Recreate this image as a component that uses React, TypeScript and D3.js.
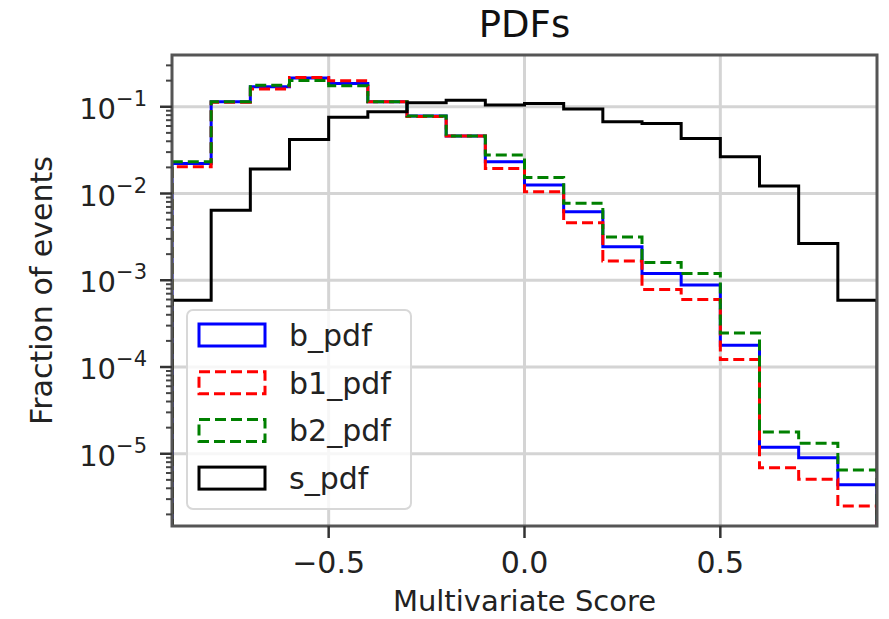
import React from 'react';
import * as d3 from 'd3';

// bin edges of the histogram (multivariate score)
const binEdges = [-0.9, -0.8, -0.7, -0.6, -0.5, -0.4, -0.3, -0.2, -0.1, 0.0, 0.1, 0.2, 0.3, 0.4, 0.5, 0.6, 0.7, 0.8, 0.9];

// fraction of events per bin
const bPdf = [0.0222, 0.114, 0.170, 0.215, 0.185, 0.114, 0.078, 0.046, 0.0232, 0.0125, 0.00615, 0.00243, 0.0012, 0.00088, 0.000178, 0.0000119, 0.000009, 0.0000044];
const b1Pdf = [0.0203, 0.113, 0.160, 0.218, 0.200, 0.114, 0.077, 0.046, 0.0194, 0.0105, 0.0046, 0.00167, 0.00078, 0.0006, 0.000122, 0.0000069, 0.0000051, 0.0000025];
const b2Pdf = [0.0232, 0.114, 0.177, 0.201, 0.175, 0.114, 0.078, 0.046, 0.0277, 0.0153, 0.0077, 0.00316, 0.0016, 0.0012, 0.000247, 0.0000178, 0.0000132, 0.0000065];
const sPdf = [0.00059, 0.0064, 0.0192, 0.042, 0.0755, 0.0876, 0.111, 0.119, 0.105, 0.109, 0.094, 0.067, 0.064, 0.043, 0.0265, 0.0122, 0.00265, 0.00059];

const seriesNames = ['b_pdf', 'b1_pdf', 'b2_pdf', 's_pdf'];
const seriesColors = ['#0000ff', '#ff0000', '#008000', '#000000'];
const seriesDash = [null, '11 5', '11 5', null];

const xTicks = [-0.5, 0.0, 0.5];
const yTickExps = [-1, -2, -3, -4, -5];

const W = 889;
const H = 619;
const margin = { left: 172, right: 12, top: 55, bottom: 93 };
const font = 'DejaVu Sans, sans-serif';

export default function App() {
  const x = d3.scaleLinear().domain([-0.9, 0.9]).range([margin.left, W - margin.right]);
  const y = d3.scaleLog().domain([1.47e-6, 0.395]).range([H - margin.bottom, margin.top]);
  const [x0, x1] = x.range();
  const [yb, yt] = y.range();

  const stepPath = (vals: number[]) => {
    const pts: [number, number][] = [[binEdges[0], 1e-8]];
    vals.forEach((v, i) => {
      pts.push([binEdges[i], v]);
      pts.push([binEdges[i + 1], v]);
    });
    pts.push([binEdges[binEdges.length - 1], 1e-8]);
    return d3.line<[number, number]>()
      .x(d => x(d[0]))
      .y(d => Math.min(y(d[1]), yb + 20))(pts);
  };

  const all = [bPdf, b1Pdf, b2Pdf, sPdf];

  // minor ticks on log axis
  const minor: number[] = [];
  for (let e = -6; e <= 0; e++) {
    for (let m = 2; m <= 9; m++) {
      const v = m * Math.pow(10, e);
      if (v >= y.domain()[0] && v <= y.domain()[1]) minor.push(v);
    }
  }

  const legendX = 187;
  const legendY = 310;
  const rowH = 47.7;

  return (
    <svg width={W} height={H} style={{ position: 'absolute', left: 0, top: 0, background: '#fff' }}>
      <defs>
        <clipPath id="plot">
          <rect x={x0} y={yt} width={x1 - x0} height={yb - yt} />
        </clipPath>
      </defs>
      <rect width={W} height={H} fill="#fff" />
      {/* grid */}
      {xTicks.map(t => (
        <line key={'gx' + t} x1={x(t)} x2={x(t)} y1={yt} y2={yb} stroke="#d4d4d4" strokeWidth={3} />
      ))}
      {yTickExps.map(e => (
        <line key={'gy' + e} x1={x0} x2={x1} y1={y(Math.pow(10, e))} y2={y(Math.pow(10, e))} stroke="#d4d4d4" strokeWidth={3} />
      ))}
      {/* histograms */}
      <g clipPath="url(#plot)">
        {all.map((vals, i) => (
          <path key={seriesNames[i]} d={stepPath(vals) || ''} fill="none" stroke={seriesColors[i]}
            strokeWidth={3} strokeDasharray={seriesDash[i] || undefined} strokeLinejoin="miter" />
        ))}
      </g>
      {/* spines */}
      <rect x={x0} y={yt} width={x1 - x0} height={yb - yt} fill="none" stroke="#555" strokeWidth={3} />
      {/* x ticks */}
      {xTicks.map(t => (
        <g key={'xt' + t}>
          <line x1={x(t)} x2={x(t)} y1={yb} y2={yb + 12} stroke="#333" strokeWidth={2.5} />
          <text x={x(t)} y={573} textAnchor="middle" fontFamily={font} fontSize={30} fill="#222">
            {t < 0 ? '\u2212' + Math.abs(t).toFixed(1) : t.toFixed(1)}
          </text>
        </g>
      ))}
      {/* y ticks */}
      {minor.map(v => (
        <line key={'ym' + v} x1={x0 - 6} x2={x0} y1={y(v)} y2={y(v)} stroke="#444" strokeWidth={2} />
      ))}
      {yTickExps.map(e => (
        <g key={'yt' + e}>
          <line x1={x0 - 12} x2={x0} y1={y(Math.pow(10, e))} y2={y(Math.pow(10, e))} stroke="#333" strokeWidth={2.5} />
          <text x={147} y={y(Math.pow(10, e)) + 12} textAnchor="end" fontFamily={font} fontSize={29} fill="#222">
            10<tspan fontSize={21} dy={-13}>{'\u2212' + Math.abs(e)}</tspan>
          </text>
        </g>
      ))}
      {/* labels */}
      <text x={(x0 + x1) / 2} y={611} textAnchor="middle" fontFamily={font} fontSize={29} fill="#222">Multivariate Score</text>
      <text transform={`translate(52,${(yt + yb) / 2}) rotate(-90)`} textAnchor="middle" fontFamily={font} fontSize={30} fill="#222">Fraction of events</text>
      <text x={(x0 + x1) / 2} y={37} textAnchor="middle" fontFamily={font} fontSize={37} fill="#111">PDFs</text>
      {/* legend */}
      <rect x={legendX} y={legendY} width={224} height={199} rx={6} fill="#fff" fillOpacity={0.8} stroke="#d8d8d8" strokeWidth={2} />
      {seriesNames.map((name, i) => {
        const cy = legendY + 25 + i * rowH;
        return (
          <g key={'lg' + name}>
            <rect x={199} y={cy - 11} width={66} height={22} fill="none" stroke={seriesColors[i]} strokeWidth={3}
              strokeDasharray={seriesDash[i] || undefined} />
            <text x={289} y={cy + 11} fontFamily={font} fontSize={30} fill="#222">{name}</text>
          </g>
        );
      })}
    </svg>
  );
}
